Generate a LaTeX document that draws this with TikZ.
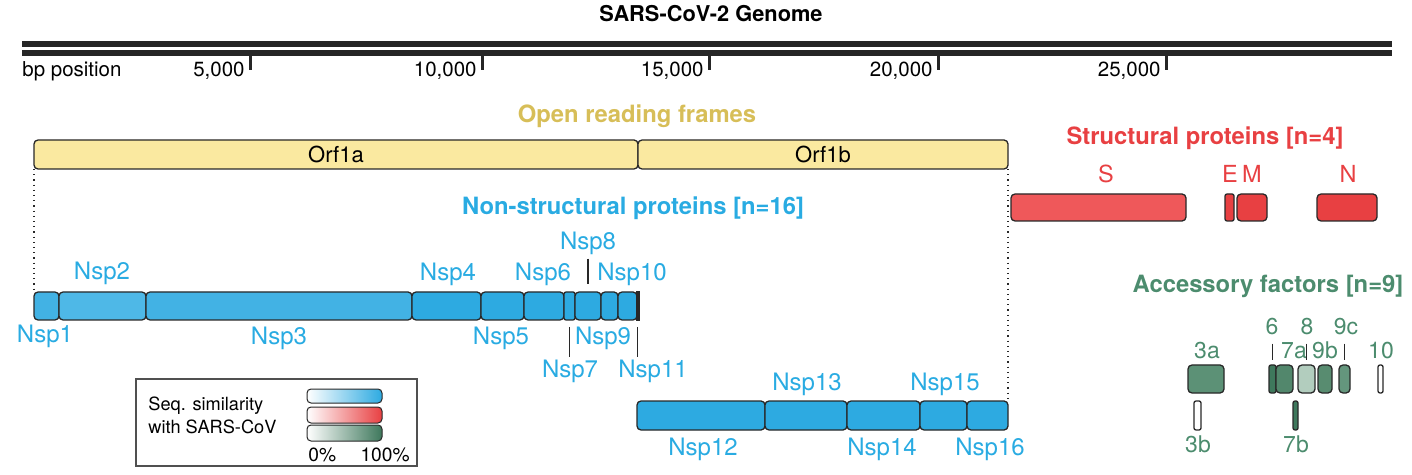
\documentclass[tikz,border=0pt]{standalone}
\usepackage{fontspec}
\setmainfont{TeX Gyre Heros}
\usetikzlibrary{calc}
\definecolor{boxline}{RGB}{40,40,40}
\definecolor{genomebar}{RGB}{38,38,38}
\definecolor{nsptext}{RGB}{41,171,226}
\definecolor{nspblue}{RGB}{45,170,225}
\definecolor{nsplight}{RGB}{66,178,228}
\definecolor{nsplighter}{RGB}{78,184,231}
\definecolor{orftext}{RGB}{215,190,88}
\definecolor{orffill}{RGB}{250,233,160}
\definecolor{strred}{RGB}{232,64,66}
\definecolor{sfill}{RGB}{239,88,90}
\definecolor{acctext}{RGB}{76,140,110}
\definecolor{gA}{RGB}{92,145,118}
\definecolor{gB}{RGB}{62,120,92}
\definecolor{gC}{RGB}{82,135,108}
\definecolor{gD}{RGB}{178,205,190}
\definecolor{gE}{RGB}{88,140,112}
\definecolor{gF}{RGB}{100,150,125}
\definecolor{legline}{RGB}{80,80,80}
\tikzset{
  gbox/.style={draw=boxline, line width=0.65pt, rounded corners=2pt, inner sep=0pt, outer sep=0pt},
  thinbox/.style={rounded corners=1pt},
  axislbl/.style={font=\fontsize{10.25}{12}\selectfont, inner sep=0pt, text=black},
  nsplbl/.style={font=\fontsize{12}{14}\selectfont, inner sep=0pt, anchor=base, text=nsptext},
  strlbl/.style={font=\fontsize{11.75}{14}\selectfont, inner sep=0pt, anchor=base, text=strred},
  acclbl/.style={font=\fontsize{11.5}{14}\selectfont, inner sep=0pt, anchor=base, text=acctext},
  grouptitle/.style={font=\bfseries\fontsize{11.9}{14}\selectfont, inner sep=0pt, anchor=base},
  leglbl/.style={font=\fontsize{9.1}{11}\selectfont, inner sep=0pt, text=black},
  orflbl/.style={font=\fontsize{11}{13}\selectfont, inner sep=0pt, text=black},
  dotline/.style={dotted, line width=0.6pt, draw=boxline},
  lbltick/.style={line width=0.6pt, draw=boxline},
  genome/.style={line width=3.25pt, draw=genomebar},
  gtick/.style={line width=1.5pt, draw=genomebar},
}
% \genebox[opts]{name}{x1}{x2}{y1}{y2}{fill}
\newcommand{\genebox}[7][]{%
  \node[gbox, fill=#7, #1, minimum width={(#4-#3)*0.5pt}, minimum height={(#6-#5)*0.5pt}]
    (#2) at ({(#3+#4)/2},{(#5+#6)/2}) {};}
\begin{document}
\begin{tikzpicture}[x=0.5pt, y=-0.5pt]
\useasboundingbox (0,0) rectangle (1412,475);

% ---------- genome axis ----------
\node[font=\bfseries\fontsize{10.9}{13}\selectfont, inner sep=0pt, anchor=base] (title) at (711,22) {SARS-CoV-2 Genome};
\coordinate (gstart) at (22,44);
\coordinate (gend) at (1392,44);
\draw[genome] (gstart) -- (gend);
\draw[genome] ([yshift=-4.5pt]gstart) -- ([yshift=-4.5pt]gend);
\node[axislbl, anchor=base west] (bplbl) at (22,77) {bp position};
\foreach \x/\t [count=\i] in {250/{5,000}, 482/{10,000}, 709/{15,000}, 938/{20,000}, 1166/{25,000}} {
  \draw[gtick] (\x,56) -- (\x,70);
  \node[axislbl, anchor=base east] (tick\i) at (\x-5,77) {\t};
}

% ---------- open reading frames ----------
\node[grouptitle, text=orftext] (orftitle) at (637,123) {Open reading frames};
\genebox{orf1a}{34}{638}{140}{169}{orffill}
\genebox{orf1b}{638}{1008}{140}{169}{orffill}
\node[orflbl] (lorf1a) at (orf1a) {Orf1a};
\node[orflbl] (lorf1b) at (orf1b) {Orf1b};

% ---------- non-structural proteins ----------
\node[grouptitle, text=nsptext] (nsptitle) at (633,215) {Non-structural proteins [n=16]};
\genebox{nsp1}{34}{59}{292}{320}{nsplight}
\genebox{nsp2}{59}{146}{292}{320}{nsplighter}
\genebox{nsp3}{146}{412}{292}{320}{nsplight}
\genebox{nsp4}{412}{481}{292}{320}{nspblue}
\genebox{nsp5}{481}{524}{292}{320}{nspblue}
\genebox{nsp6}{524}{564}{292}{320}{nspblue}
\genebox[thinbox]{nsp7}{564}{575}{292}{320}{nspblue}
\genebox{nsp8}{575}{601}{292}{320}{nspblue}
\genebox{nsp9}{601}{618}{292}{320}{nspblue}
\genebox{nsp10}{618}{637}{292}{320}{nspblue}
\genebox[rounded corners=0pt]{nsp11}{636.5}{639}{292}{320}{boxline}

\genebox{nsp12}{637}{765}{401}{430}{nspblue}
\genebox{nsp13}{765}{847}{401}{430}{nspblue}
\genebox{nsp14}{847}{920}{401}{430}{nspblue}
\genebox{nsp15}{920}{967}{401}{430}{nspblue}
\genebox{nsp16}{967}{1008}{401}{430}{nspblue}

\draw[dotline] (orf1a.south west) -- (nsp1.north west);
\draw[dotline] (orf1b.south east) -- (nsp16.north east);

\node[nsplbl] (lnsp1) at (45,343) {Nsp1};
\node[nsplbl] (lnsp2) at (102,280) {Nsp2};
\node[nsplbl] (lnsp3) at (279,344) {Nsp3};
\node[nsplbl] (lnsp4) at (448,281) {Nsp4};
\node[nsplbl] (lnsp5) at (501,344) {Nsp5};
\node[nsplbl] (lnsp6) at (543,281) {Nsp6};
\node[nsplbl] (lnsp7) at (570,378) {Nsp7};
\node[nsplbl] (lnsp8) at (588,250) {Nsp8};
\node[nsplbl] (lnsp9) at (603,344) {Nsp9};
\node[nsplbl] (lnsp10) at (632,281) {Nsp10};
\node[nsplbl] (lnsp11) at (653,378) {Nsp11};
\node[nsplbl] (lnsp12) at (703,455) {Nsp12};
\node[nsplbl] (lnsp13) at (807,390) {Nsp13};
\node[nsplbl] (lnsp14) at (882,455) {Nsp14};
\node[nsplbl] (lnsp15) at (945,390) {Nsp15};
\node[nsplbl] (lnsp16) at (990,455) {Nsp16};

\draw[lbltick] ([yshift=-1.5pt]lnsp8.south -| nsp8.north) -- ([yshift=4pt]nsp8.north);
\draw[lbltick] ([yshift=-3.5pt]nsp7.south) -- ([yshift=1.5pt]lnsp7.north -| nsp7.south);
\draw[lbltick] ([yshift=-3.5pt]nsp11.south) -- ([yshift=1.5pt]lnsp11.north -| nsp11.south);

% ---------- structural proteins ----------
\node[grouptitle, text=strred] (strtitle) at (1205,145) {Structural proteins [n=4]};
\genebox{sS}{1011}{1186}{194}{221}{sfill}
\genebox[thinbox]{sE}{1225}{1234}{194}{221}{strred}
\genebox{sM}{1237}{1267}{194}{221}{strred}
\genebox{sN}{1317}{1377}{194}{221}{strred}
\node[strlbl] (lS) at (1106,183) {S};
\node[strlbl] (lE) at (1230,183) {E};
\node[strlbl] (lM) at (1252,183) {M};
\node[strlbl] (lN) at (1348,183) {N};

% ---------- accessory factors ----------
\node[grouptitle, text=acctext] (acctitle) at (1268,293) {Accessory factors [n=9]};
\genebox{a3a}{1188}{1224}{365}{393}{gA}
\genebox[thinbox]{a6}{1269}{1276}{365}{393}{gB}
\genebox{a7a}{1276}{1293}{365}{393}{gC}
\genebox{a8}{1298}{1315}{365}{393}{gD}
\genebox{a9b}{1318}{1332}{365}{393}{gE}
\genebox{a9c}{1339}{1350}{365}{393}{gF}
\genebox[thinbox]{a10}{1378}{1383}{365}{393}{white}
\genebox[thinbox]{a3b}{1194}{1201}{401}{430}{white}
\genebox[thinbox]{a7b}{1293}{1298}{401}{430}{gB}

\node[acclbl] (l3a) at (1207,358) {3a};
\node[acclbl] (l3b) at (1198,452) {3b};
\node[acclbl] (l6) at (1272,335) {6};
\node[acclbl] (l8) at (1307,335) {8};
\node[acclbl] (l9c) at (1346,335) {9c};
\node[acclbl] (l7a) at (1294,358) {7a};
\node[acclbl] (l9b) at (1325,358) {9b};
\node[acclbl] (l10) at (1381,358) {10};
\node[acclbl] (l7b) at (1296,452) {7b};

\draw[lbltick] ([yshift=-4pt]l6.south -| a6.north) -- ([yshift=2.5pt]a6.north);
\draw[lbltick] ([yshift=-4pt]l8.south -| a8.north) -- ([yshift=2.5pt]a8.north);
\draw[lbltick] ([yshift=-4pt]l9c.south -| a9c.north) -- ([yshift=2.5pt]a9c.north);

% ---------- legend ----------
\node[draw=legline, line width=0.6pt, inner sep=0pt, minimum width=140.5pt, minimum height=43.5pt] (legend) at (276.5,422.5) {};
\node[leglbl, anchor=base west] (legt1) at (148,410) {Seq. similarity};
\node[leglbl, anchor=base west] (legt2) at (148,433) {with SARS-CoV};
\genebox[left color=white, right color=nspblue, line width=0.5pt]{lg1}{307}{382}{389}{403}{white}
\genebox[left color=white, right color=strred, line width=0.5pt]{lg2}{307}{382}{407}{423}{white}
\genebox[left color=white, right color=gB, line width=0.5pt]{lg3}{307}{382}{425}{441}{white}
\node[leglbl, font=\fontsize{9.6}{11}\selectfont, anchor=base west] (leg0) at (308,461) {0\%};
\node[leglbl, font=\fontsize{9.6}{11}\selectfont, anchor=base east] (leg100) at (410,461) {100\%};
\end{tikzpicture}
\end{document}
